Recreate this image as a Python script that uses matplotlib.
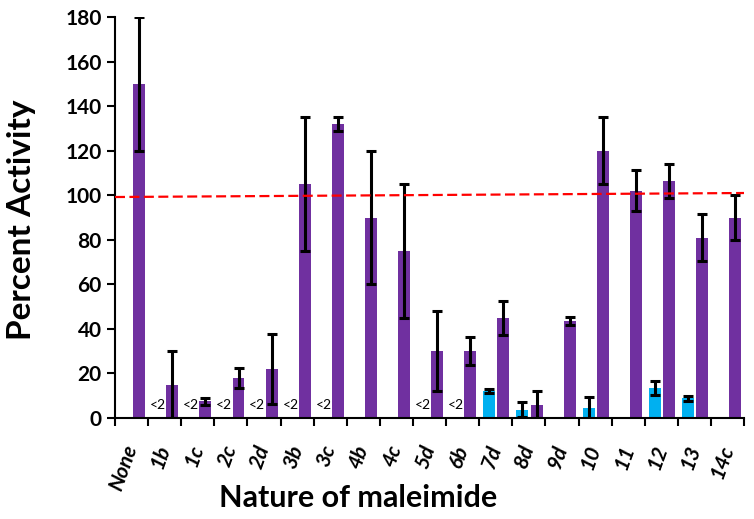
import matplotlib.pyplot as plt
import matplotlib.transforms as mtransforms
import numpy as np

# categories and values
categories = ['None', '1b', '1c', '2c', '2d', '3b', '3c', '4b', '4c', '5d',
              '6b', '7d', '8d', '9d', '10', '11', '12', '13', '14c']
purple_vals = [150, 15, 7.5, 18, 22, 105, 132, 90, 75, 30,
               30, 45, 6, 43.5, 120, 102, 106.5, 81, 90]
purple_err = [30, 15, 1.5, 4.5, 15.5, 30, 3, 30, 30, 18,
              6.3, 7.7, 6, 1.8, 15, 9.3, 7.6, 10.7, 10]
blue_vals = [np.nan, np.nan, np.nan, np.nan, np.nan, np.nan, np.nan, np.nan, np.nan, np.nan,
             np.nan, 12, 3.7, np.nan, 4.5, np.nan, 13.5, 8.8, np.nan]
blue_err = [0, 0, 0, 0, 0, 0, 0, 0, 0, 0,
            0, 1, 3.3, 0, 5, 0, 3, 1, 0]
below_limit = ['1b', '1c', '2c', '2d', '3b', '3c', '5d', '6b']
ref_line = [99.2, 101.0]

plt.rcParams['font.family'] = ['Lato', 'DejaVu Sans']

fig = plt.figure(figsize=(7.54, 5.19), dpi=100)
ax = fig.add_axes([0.1525, 0.1946, 0.8345, 0.7726])

x = np.arange(len(categories))
purple = '#7030A0'
blue = '#00B0F0'
err_kw = dict(ecolor='black', elinewidth=2.2, capsize=3.8, capthick=2.2)

ax.bar(x + 0.23, purple_vals, width=0.36, color=purple, yerr=purple_err,
       error_kw=err_kw, zorder=2)
ax.bar(x - 0.2, blue_vals, width=0.36, color=blue, yerr=blue_err,
       error_kw=err_kw, zorder=2)

for name in below_limit:
    i = categories.index(name)
    ax.text(i - 0.2, 6, '<2', ha='center', va='center', fontsize=10)

ax.plot([-0.5, len(categories) - 0.5], ref_line, color='#FF0000',
        linestyle=(0, (4.5, 2)), linewidth=1.6, zorder=3)

ax.set_xlim(-0.5, len(categories) - 0.5)
ax.set_ylim(0, 180)
ax.set_yticks(range(0, 181, 20))
ax.tick_params(axis='y', labelsize=15, width=1.5, length=6, direction='out')
for lbl in ax.get_yticklabels():
    lbl.set_fontweight('bold')

ax.set_xticks(x)
ax.set_xticklabels(categories, rotation=70, fontsize=15, fontweight='bold',
                   fontstyle='italic', ha='right', va='center',
                   rotation_mode='anchor')
shift = mtransforms.ScaledTranslation(7 / 100, 0, fig.dpi_scale_trans)
for lbl in ax.get_xticklabels():
    lbl.set_transform(lbl.get_transform() + shift)
ax.set_xticks(np.arange(-0.5, len(categories)), minor=True)
ax.tick_params(axis='x', which='major', length=0, pad=20)
ax.tick_params(axis='x', which='minor', length=6, width=1.5, direction='out')

for side in ['top', 'right']:
    ax.spines[side].set_visible(False)
for side in ['left', 'bottom']:
    ax.spines[side].set_linewidth(1.5)

fig.text(0.029, 0.576, 'Percent Activity', fontsize=24, fontweight='bold',
         rotation=90, ha='center', va='center')
fig.text(0.475, 0.04, 'Nature of maleimide', fontsize=22, fontweight='bold',
         ha='center', va='center')

fig.savefig('out.png', dpi=100)
